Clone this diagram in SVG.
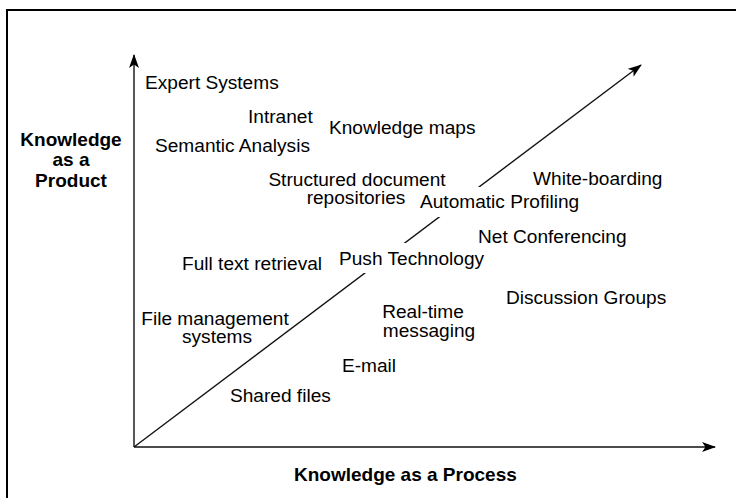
<svg xmlns="http://www.w3.org/2000/svg" width="736" height="498" viewBox="0 0 736 498">
  <style>
    .lbl { font-family: "Liberation Sans", Arial, sans-serif; font-size: 19.1px; fill: #000; }
    .axis-title { font-family: "Liberation Sans", Arial, sans-serif; font-size: 19px; font-weight: bold; fill: #000; }
    .axis { stroke: #111; stroke-width: 1.4; fill: none; }
    .mask { fill: #fff; }
  </style>
  <defs>
    <marker id="arrow" viewBox="0 0 14 10" refX="13" refY="5" markerWidth="14" markerHeight="10" markerUnits="userSpaceOnUse" orient="auto">
      <path d="M0,0 L14,5 L0,10 L3.5,5 z" fill="#000"/>
    </marker>
  </defs>

  <rect width="736" height="498" fill="#fff"/>
  <!-- frame: only top and left edges fall inside the canvas -->
  <rect x="7" y="10" width="800" height="600" fill="none" stroke="#000" stroke-width="2"/>

  <g id="connectors">
    <line class="axis" x1="134" y1="447" x2="134" y2="55" marker-end="url(#arrow)"/>
    <line class="axis" x1="134" y1="447" x2="715" y2="447" marker-end="url(#arrow)"/>
    <line class="axis" x1="134" y1="447" x2="641" y2="65" marker-end="url(#arrow)"/>
  </g>

  <g id="axis-product">
    <text class="axis-title" x="71" y="146" text-anchor="middle">Knowledge</text>
    <text class="axis-title" x="71" y="166" text-anchor="middle">as a</text>
    <text class="axis-title" x="71" y="187" text-anchor="middle">Product</text>
  </g>
  <g id="axis-process">
    <text class="axis-title" x="294" y="481">Knowledge as a Process</text>
  </g>

  <g id="expert-systems"><text class="lbl" x="145" y="89">Expert Systems</text></g>
  <g id="intranet"><text class="lbl" x="248" y="123">Intranet</text></g>
  <g id="knowledge-maps"><text class="lbl" x="329" y="134">Knowledge maps</text></g>
  <g id="semantic-analysis"><text class="lbl" x="155" y="152">Semantic Analysis</text></g>
  <g id="structured-docs">
    <text class="lbl" x="357" y="186" text-anchor="middle">Structured document</text>
    <text class="lbl" x="356" y="204" text-anchor="middle">repositories</text>
  </g>
  <g id="white-boarding"><text class="lbl" x="533" y="185">White-boarding</text></g>
  <g id="automatic-profiling">
    <rect class="mask" x="414" y="187" width="172" height="30"/>
    <text class="lbl" x="420" y="208">Automatic Profiling</text>
  </g>
  <g id="net-conferencing"><text class="lbl" x="478" y="243">Net Conferencing</text></g>
  <g id="full-text-retrieval"><text class="lbl" x="182" y="270">Full text retrieval</text></g>
  <g id="push-technology">
    <rect class="mask" x="334" y="243" width="160" height="30"/>
    <text class="lbl" x="339" y="265">Push Technology</text>
  </g>
  <g id="discussion-groups"><text class="lbl" x="506" y="304">Discussion Groups</text></g>
  <g id="file-management">
    <text class="lbl" x="215" y="325" text-anchor="middle">File management</text>
    <text class="lbl" x="217" y="343" text-anchor="middle">systems</text>
  </g>
  <g id="real-time-messaging">
    <text class="lbl" x="423" y="318" text-anchor="middle">Real-time</text>
    <text class="lbl" x="429" y="337" text-anchor="middle">messaging</text>
  </g>
  <g id="e-mail"><text class="lbl" x="342" y="372">E-mail</text></g>
  <g id="shared-files"><text class="lbl" x="230" y="402">Shared files</text></g>
</svg>
